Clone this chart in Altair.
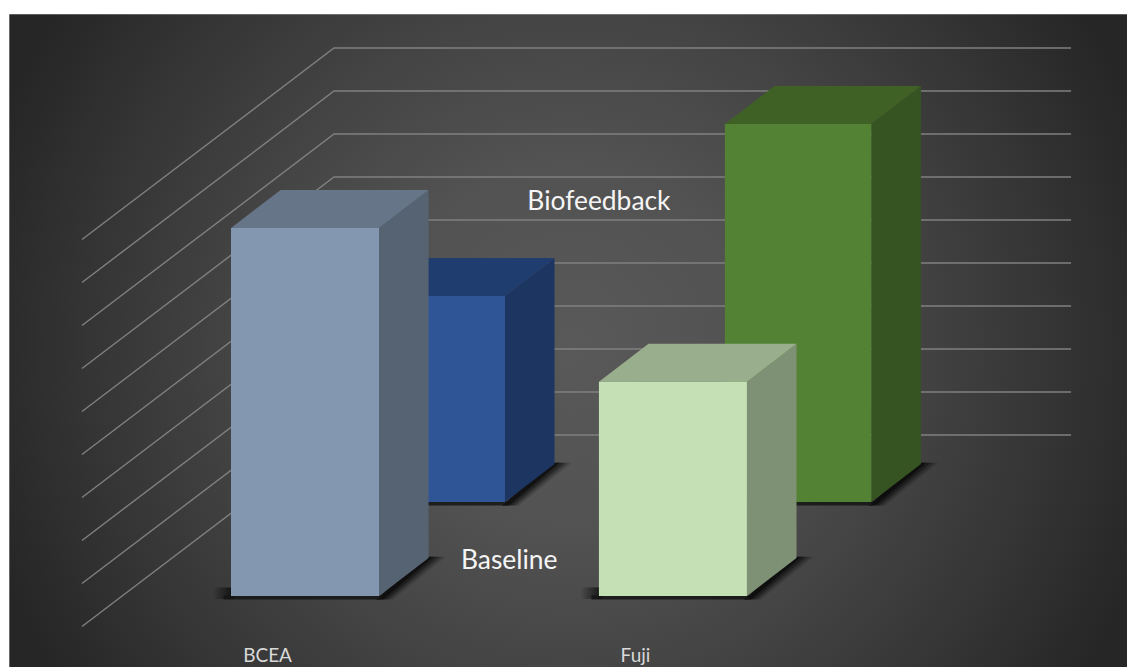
import altair as alt
import pandas as pd

# ---- data -----------------------------------------------------------------
categories = ["BCEA", "Fuji"]
series = ["Baseline", "Biofeedback"]
baseline_values = [8.56, 4.98]
biofeedback_values = [4.79, 8.79]
grid_levels = [0, 1, 2, 3, 4, 5, 6, 7, 8, 9]

front_colors = {"Baseline": ["#8497b0", "#c5e0b4"], "Biofeedback": ["#2f5597", "#548235"]}
top_colors = {"Baseline": ["#667587", "#99ae8c"], "Biofeedback": ["#203d70", "#3f6125"]}
side_colors = {"Baseline": ["#556372", "#7f9175"], "Biofeedback": ["#1c3561", "#365322"]}

# ---- projection of the oblique 3-D box, in chart units ---------------------
PX_X, PX_Y = 148.0, 43.0                 # pixels per chart unit
ORIGIN_X, ORIGIN_Y = 231.0, 435.0        # picture position of unit (0, 0)
LEFT, TOP = 9.3, 14.3                    # picture position of the panel corner
RIGHT_EDGE, BOTTOM_EDGE = 1127.0, 667.0  # last pixels the page can show without rescaling
WIDTH, HEIGHT = RIGHT_EDGE - LEFT, BOTTOM_EDGE - TOP

X_DOMAIN = [(LEFT - ORIGIN_X) / PX_X, (RIGHT_EDGE - ORIGIN_X) / PX_X]
Y_DOMAIN = [(ORIGIN_Y - BOTTOM_EDGE) / PX_Y, (ORIGIN_Y - TOP) / PX_Y]

cat_pos = [0.0, 2.486]
series_shift = {"Baseline": 0.0, "Biofeedback": 0.851}
floor_lift = {"Baseline": -3.744, "Biofeedback": -1.558}
DEPTH_X, DEPTH_Y = 0.335, 0.884
WALL_LEFT, WALL_RIGHT, FLOOR_LEFT, FLOOR_DROP = 0.696, 5.676, -1.007, 4.453

xs = alt.Scale(domain=X_DOMAIN, range=[0, WIDTH], nice=False, zero=False)
ys = alt.Scale(domain=Y_DOMAIN, range=[HEIGHT, 0], nice=False, zero=False)
X = lambda f="x": alt.X(f"{f}:Q", scale=xs, axis=None, stack=None)
Y = lambda f="y": alt.Y(f"{f}:Q", scale=ys, axis=None, stack=None)
X2 = alt.X2("x2:Q")
Y2 = alt.Y2("y2:Q")


def rect_layer(row, **mark):
    return alt.Chart(pd.DataFrame([row])).mark_rect(**mark).encode(x=X(), x2=X2, y=Y(), y2=Y2)


def horiz(rows, **mark):
    return (alt.Chart(pd.DataFrame(rows)).mark_area(orient="horizontal", **mark)
            .encode(y=Y(), x=X(), x2=X2))


def vert(rows, **mark):
    return (alt.Chart(pd.DataFrame(rows)).mark_area(orient="vertical", **mark)
            .encode(x=X(), y=Y(), y2=Y2))


# ---- background --------------------------------------------------------------
cx, cy, R = (570 - ORIGIN_X) / PX_X, (ORIGIN_Y - 345) / PX_Y, 610
background = rect_layer(
    {"x": cx - R / PX_X, "x2": cx + R / PX_X, "y": cy - R / PX_Y, "y2": cy + R / PX_Y},
    clip=True,
    fill={
        "gradient": "radial", "x1": 0.5, "y1": 0.5, "r1": 0, "x2": 0.5, "y2": 0.5, "r2": 0.5,
        "stops": [
            {"offset": 0, "color": "#595959"},
            {"offset": 0.3, "color": "#525252"},
            {"offset": 0.55, "color": "#444444"},
            {"offset": 0.8, "color": "#343434"},
            {"offset": 1, "color": "#262626"},
        ],
    },
)

# ---- grid --------------------------------------------------------------------
grid_rows = []
for lv in grid_levels:
    grid_rows += [
        {"x": FLOOR_LEFT, "y": lv - FLOOR_DROP, "level": lv},
        {"x": WALL_LEFT, "y": lv, "level": lv},
        {"x": WALL_RIGHT, "y": lv, "level": lv},
    ]
grid = (alt.Chart(pd.DataFrame(grid_rows))
        .mark_line(color="#808080", strokeWidth=1.4)
        .encode(x=X(), y=Y(), detail="level:N"))


# ---- one 3-D bar -------------------------------------------------------------
def bar_layers(s, c, value):
    xl = cat_pos[c] + series_shift[s]
    xr = xl + (0.99 if (s, c) == ("Biofeedback", 1) else 1.0)
    y0 = floor_lift[s]
    y1 = y0 + value
    out = []
    # soft ground shadow to the right of the side face
    for grow, op in [(0.115, 0.15), (0.09, 0.22), (0.065, 0.32), (0.035, 0.5)]:
        out.append(horiz(
            [{"y": y0 + DEPTH_Y + 0.03, "x": xr + DEPTH_X - 0.02, "x2": xr + DEPTH_X + grow},
             {"y": y0 - 0.08, "x": xr - 0.02, "x2": xr + grow * 0.8}],
            color="#000000", opacity=op))
    # shadow left of and below the front face
    out.append(rect_layer(
        {"x": xl - 0.125, "x2": xl + 0.02, "y": y0 - 0.07, "y2": y0 + 0.2},
        fill={"gradient": "linear", "x1": 0, "y1": 0.5, "x2": 1, "y2": 0.5,
              "stops": [{"offset": 0, "color": "rgba(0,0,0,0)"},
                        {"offset": 1, "color": "rgba(0,0,0,0.75)"}]}))
    out.append(rect_layer(
        {"x": xl - 0.05, "x2": xr + 0.01, "y": y0 - 0.08, "y2": y0 + 0.02},
        color="#151515", opacity=0.85))
    # faces
    out.append(vert(
        [{"x": xr, "y": y0, "y2": y1},
         {"x": xr + DEPTH_X, "y": y0 + DEPTH_Y, "y2": y1 + DEPTH_Y}],
        color=side_colors[s][c]))
    out.append(horiz(
        [{"y": y1, "x": xl, "x2": xr},
         {"y": y1 + DEPTH_Y, "x": xl + DEPTH_X, "x2": xr + DEPTH_X}],
        color=top_colors[s][c]))
    out.append(rect_layer({"x": xl, "x2": xr, "y": y0, "y2": y1}, color=front_colors[s][c]))
    return out


layers = [background, grid]
# paint back to front: the Biofeedback row stands behind the Baseline row
for c in range(2):
    layers += bar_layers("Biofeedback", c, biofeedback_values[c])
for c in range(2):
    layers += bar_layers("Baseline", c, baseline_values[c])

# ---- text ---------------------------------------------------------------------
cat_labels = pd.DataFrame({
    "label": categories,
    "x": [p + 0.247 for p in cat_pos],
    "y": [-5.14, -5.14],
})
series_labels = pd.DataFrame({
    "label": series,
    "x": [1.88, 2.486],
    "y": [-2.93, 5.43],
})
layers.append(alt.Chart(cat_labels).mark_text(font="Lato", fontSize=19, color="#d9d9d9")
              .encode(x=X(), y=Y(), text="label:N"))
layers.append(alt.Chart(series_labels).mark_text(font="Lato", fontSize=26.4, color="#f5f5f5")
              .encode(x=X(), y=Y(), text="label:N"))

chart = (alt.layer(*layers)
         .properties(width=WIDTH, height=HEIGHT, background="white",
                     padding={"left": LEFT - 8, "top": TOP - 8, "right": 0, "bottom": 0})
         .configure_view(stroke=None))

chart.save("out.html", embed_options={"renderer": "svg", "actions": False})
